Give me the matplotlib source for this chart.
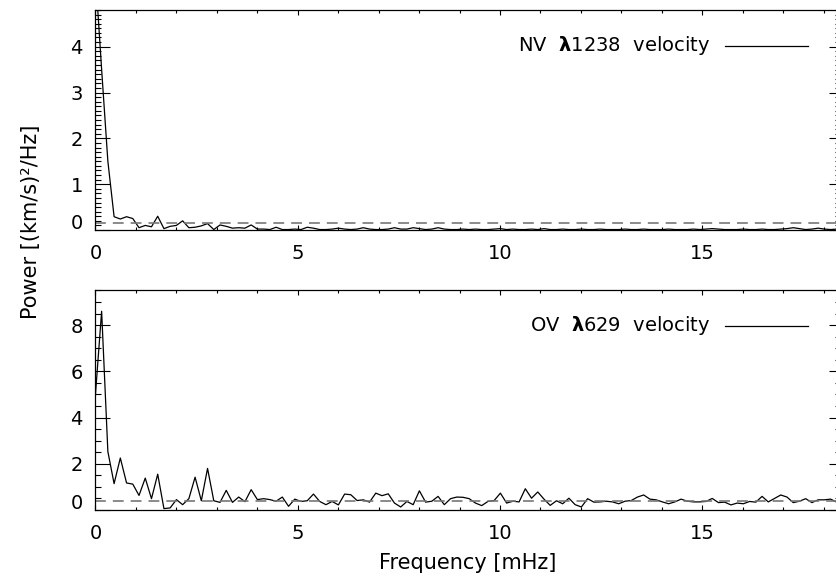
import numpy as np
import matplotlib
matplotlib.use("Agg")
import matplotlib.pyplot as plt
from matplotlib.ticker import MultipleLocator
from matplotlib.transforms import ScaledTranslation

# frequency step of the periodogram (mHz)
df = 0.154

# power spectra, (km/s)^2/Hz
nv_power = [5.6, 3.5, 1.5, 0.29, 0.24, 0.29, 0.25, 0.05, 0.10, 0.07,
            0.30, 0.03, 0.08, 0.10, 0.20, 0.05, 0.06, 0.09, 0.14, 0.01,
            0.11, 0.08, 0.04, 0.05, 0.04, 0.11, 0.02, 0.02, 0.01, 0.06,
            0.01, 0.01, 0.02, 0.01, 0.06, 0.04, 0.01, 0.01, 0.02, 0.04,
            0.02, 0.01, 0.02, 0.05, 0.02, 0.01, 0.01, 0.02, 0.05, 0.02,
            0.02, 0.05, 0.03, 0.01, 0.02, 0.05, 0.02, 0.01, 0.01, 0.02,
            0.01, 0.02, 0.01, 0.01, 0.02, 0.03, 0.01, 0.02, 0.01, 0.01,
            0.02, 0.01, 0.03, 0.01, 0.01, 0.02, 0.01, 0.01, 0.02, 0.01,
            0.01, 0.02, 0.01, 0.01, 0.01, 0.02, 0.01, 0.01, 0.02, 0.01,
            0.01, 0.01, 0.02, 0.01, 0.01, 0.01, 0.02, 0.01, 0.02, 0.03,
            0.02, 0.01, 0.01, 0.01, 0.02, 0.01, 0.01, 0.02, 0.01, 0.01,
            0.02, 0.03, 0.05, 0.03, 0.01, 0.02, 0.04, 0.02, 0.01, 0.02]

ov_power = [4.97, 8.6, 2.53, 1.14, 2.25, 1.17, 1.12, 0.63, 1.38, 0.49,
            1.55, 0.06, 0.09, 0.45, 0.23, 0.49, 1.42, 0.40, 1.80, 0.40,
            0.33, 0.85, 0.33, 0.56, 0.36, 0.88, 0.45, 0.49, 0.45, 0.38,
            0.56, 0.16, 0.47, 0.37, 0.40, 0.69, 0.37, 0.23, 0.37, 0.22,
            0.69, 0.66, 0.41, 0.44, 0.34, 0.73, 0.62, 0.70, 0.30, 0.13,
            0.37, 0.23, 0.83, 0.34, 0.38, 0.59, 0.23, 0.49, 0.56, 0.55,
            0.49, 0.30, 0.19, 0.37, 0.41, 0.73, 0.30, 0.38, 0.35, 0.92,
            0.51, 0.78, 0.47, 0.20, 0.40, 0.27, 0.51, 0.23, 0.13, 0.49,
            0.34, 0.35, 0.38, 0.35, 0.27, 0.38, 0.41, 0.56, 0.65, 0.47,
            0.44, 0.35, 0.27, 0.35, 0.47, 0.38, 0.35, 0.35, 0.37, 0.50,
            0.32, 0.34, 0.22, 0.30, 0.27, 0.37, 0.34, 0.59, 0.35, 0.50,
            0.65, 0.56, 0.32, 0.38, 0.49, 0.32, 0.44, 0.44, 0.47, 0.34]

nv_level = 0.16
ov_level = 0.38

labels = [r"NV  $\mathbf{\lambda}$1238  velocity", r"OV  $\mathbf{\lambda}$629  velocity"]
freq = np.arange(len(nv_power)) * df

plt.rcParams['font.family'] = 'DejaVu Sans'
plt.rcParams['font.size'] = 14
plt.rcParams['mathtext.fontset'] = 'dejavusans'

W, H = 837, 577
fig = plt.figure(figsize=(W / 100, H / 100), dpi=100)

def make_panel(top_px, power, level, ymax, ystep, yminor, label):
    ax = fig.add_axes([95.4 / W, 1 - (top_px + 220) / H, (W - 95.4) / W, 220 / H])
    ax.plot(freq, power, color='k', lw=0.9)
    ax.axhline(level, color='#777777', lw=1.2, dashes=(6.5, 4.2))
    ax.set_xlim(0, 18.33)
    ax.set_ylim(0, ymax)
    ax.xaxis.set_major_locator(MultipleLocator(5))
    ax.xaxis.set_minor_locator(MultipleLocator(1))
    ax.yaxis.set_major_locator(MultipleLocator(ystep))
    ax.yaxis.set_minor_locator(MultipleLocator(yminor))
    ax.tick_params(axis='x', which='both', direction='in', top=True, pad=10)
    ax.tick_params(axis='x', which='major', length=3.8, width=0.8)
    ax.tick_params(axis='x', which='minor', length=2.2, width=0.8)
    ax.tick_params(axis='y', which='both', direction='in', right=False, pad=9)
    ax.tick_params(axis='y', which='major', length=11, width=0.8)
    ax.tick_params(axis='y', which='minor', length=4.5, width=0.8)
    for s in ['left', 'top', 'bottom']:
        ax.spines[s].set_linewidth(0.9)
    ax.spines['right'].set_visible(False)

    # shorter ticks on the right side
    ax2 = ax.twinx()
    ax2.set_ylim(0, ymax)
    ax2.yaxis.set_major_locator(MultipleLocator(ystep))
    ax2.yaxis.set_minor_locator(MultipleLocator(yminor))
    ax2.tick_params(axis='y', which='both', direction='in', labelright=False, width=0.8)
    ax2.tick_params(axis='y', which='major', length=6)
    ax2.tick_params(axis='y', which='minor', length=1.2)
    for s in ax2.spines.values():
        s.set_visible(False)

    # raise the "0" label a little, as in the original
    fig.canvas.draw()
    off = ScaledTranslation(0, 6 / 72, fig.dpi_scale_trans)
    for t in ax.get_yticklabels():
        if t.get_text() == '0':
            t.set_transform(t.get_transform() + off)

    ax.text(0.829, 0.838, label, transform=ax.transAxes, ha='right', va='center')
    ax.plot([0.849, 0.961], [0.838, 0.838], transform=ax.transAxes, color='k', lw=0.9)
    return ax

ax1 = make_panel(10, nv_power, nv_level, 4.8, 1, 0.1, labels[0])
ax2 = make_panel(290, ov_power, ov_level, 9.52, 2, 0.5, labels[1])

fig.text(31 / W, 1 - 222 / H, 'Power [(km/s)²/Hz]', rotation=90, ha='center', va='center', fontsize=15)
fig.text(468 / W, 1 - 563 / H, 'Frequency [mHz]', ha='center', va='center', fontsize=15)

fig.savefig('out.png', dpi=100)
